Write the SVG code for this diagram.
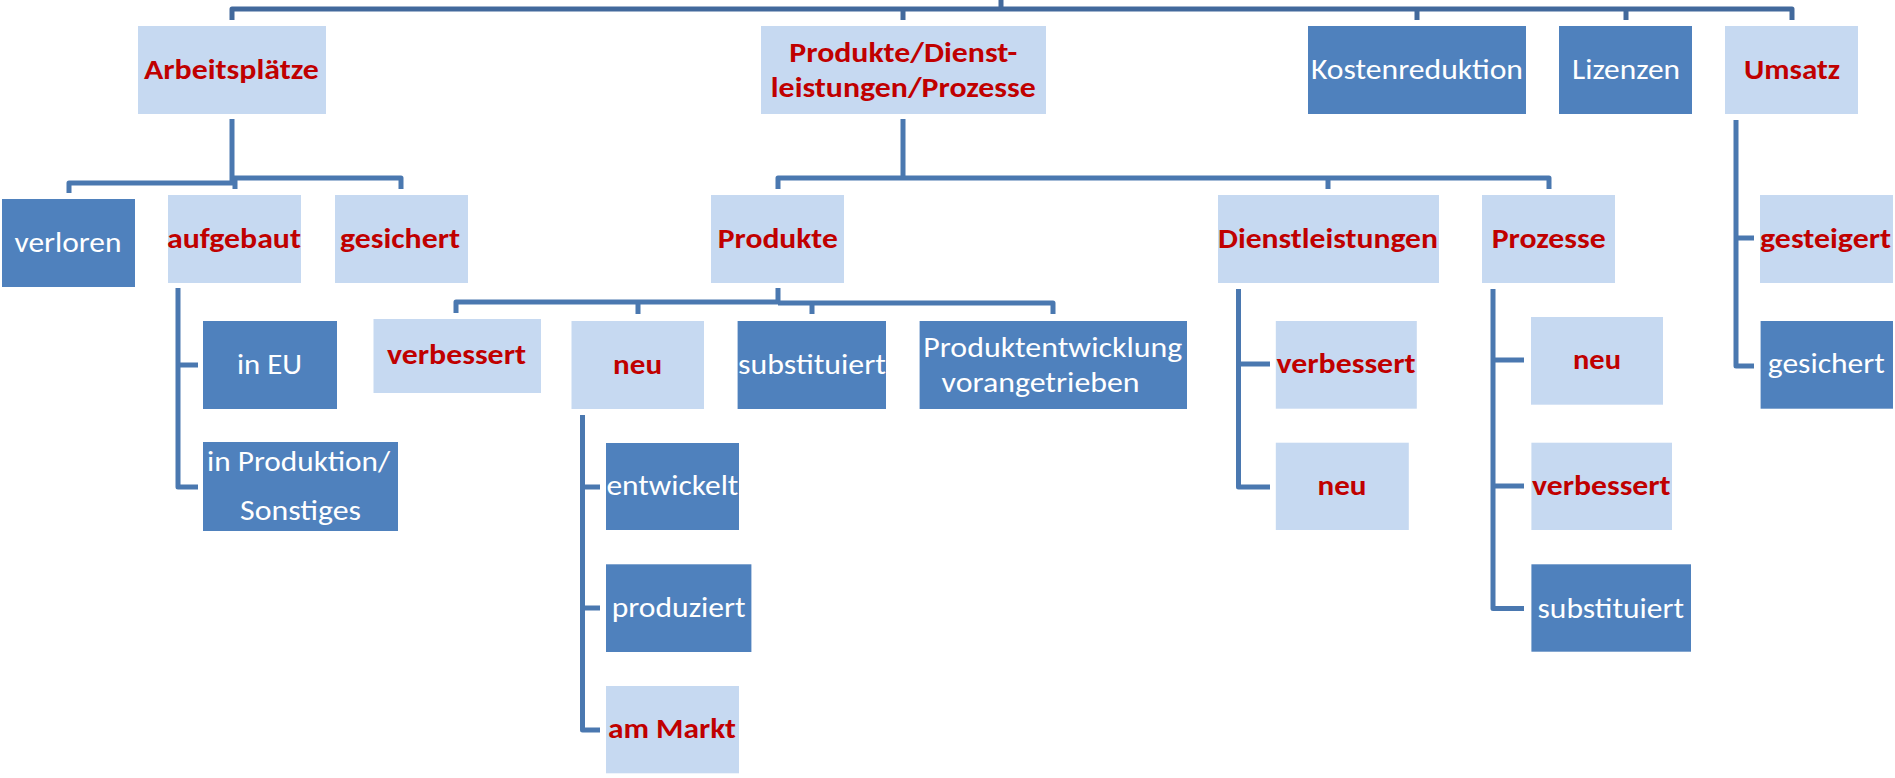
<svg xmlns="http://www.w3.org/2000/svg" width="1895" height="778" viewBox="0 0 1895 778">
<style>
.lt{fill:#C6D9F1}
.dk{fill:#4F81BD}
text{font-family:Carlito,Lato,"Open Sans",sans-serif;text-anchor:middle;font-size:29px;}
.r{font-weight:bold;fill:#C00000}
.w{fill:#FFFFFF}
.c{fill:none;stroke:#4A78B0;stroke-width:5;stroke-linejoin:round}
.t{stroke:#42699C}
</style>
<rect width="1895" height="778" fill="#FFFFFF"/>
<g id="connectors">
<path class="c t" d="M1001 0 V9"/>
<path class="c t" d="M232 20 V9 H1792 V20 M903 9 V20 M1417 9 V20 M1626 9 V20"/>
<path class="c" d="M232 119 V182 M69 193 V183 H234 M232 178 H401 V189 M235 178 V189"/>
<path class="c" d="M903 119 V178 M778 189 V178 H1549 V189 M1328 178 V189"/>
<path class="c" d="M778 288 V303 M456 313 V302 H778 M778 303 H1053 V314 M638 302 V314 M812 303 V314"/>
<path class="c" d="M178 288 V487 H198 M178 365 H198"/>
<path class="c" d="M582.5 415 V730 H600 M582 487 H600 M582 608 H600"/>
<path class="c" d="M1238.5 289 V487 H1270 M1238 364 H1270"/>
<path class="c" d="M1493 289 V608.5 H1524 M1493 360 H1524 M1493 486 H1524"/>
<path class="c" d="M1736 120 V366 H1754 M1736 238 H1754"/>
</g>
<g id="arbeitsplaetze"><rect class="lt" x="138" y="26" width="188" height="88"/><text class="r" x="231.4" y="79" textLength="175" lengthAdjust="spacingAndGlyphs">Arbeitsplätze</text></g>
<g id="pdp"><rect class="lt" x="761" y="26" width="285" height="88"/><text class="r" x="903.3" y="62" font-size="27" textLength="228" lengthAdjust="spacingAndGlyphs">Produkte/Dienst-</text><text class="r" x="903.3" y="97" font-size="27" textLength="265" lengthAdjust="spacingAndGlyphs">leistungen/Prozesse</text></g>
<g id="kostenreduktion"><rect class="dk" x="1308" y="26" width="218" height="88"/><text class="w" x="1417" y="79" textLength="212" lengthAdjust="spacingAndGlyphs">Kostenreduktion</text></g>
<g id="lizenzen"><rect class="dk" x="1559" y="26" width="133" height="88"/><text class="w" x="1626" y="79" textLength="108" lengthAdjust="spacingAndGlyphs">Lizenzen</text></g>
<g id="umsatz"><rect class="lt" x="1725" y="26" width="133" height="88"/><text class="r" x="1792" y="79" textLength="96" lengthAdjust="spacingAndGlyphs">Umsatz</text></g>
<g id="verloren"><rect class="dk" x="2" y="199" width="133" height="88"/><text class="w" x="68" y="252" textLength="107" lengthAdjust="spacingAndGlyphs">verloren</text></g>
<g id="aufgebaut"><rect class="lt" x="168" y="195" width="133" height="88"/><text class="r" x="234" y="248" textLength="134" lengthAdjust="spacingAndGlyphs">aufgebaut</text></g>
<g id="gesichert1"><rect class="lt" x="335" y="195" width="133" height="88"/><text class="r" x="400" y="248" textLength="120" lengthAdjust="spacingAndGlyphs">gesichert</text></g>
<g id="produkte"><rect class="lt" x="711" y="195" width="133" height="88"/><text class="r" x="777.8" y="248" textLength="120" lengthAdjust="spacingAndGlyphs">Produkte</text></g>
<g id="dienstleistungen"><rect class="lt" x="1218" y="195" width="221" height="88"/><text class="r" x="1328" y="248" textLength="220" lengthAdjust="spacingAndGlyphs">Dienstleistungen</text></g>
<g id="prozesse"><rect class="lt" x="1482" y="195" width="133" height="88"/><text class="r" x="1548.7" y="248" textLength="114" lengthAdjust="spacingAndGlyphs">Prozesse</text></g>
<g id="gesteigert"><rect class="lt" x="1760" y="195" width="133" height="88"/><text class="r" x="1825.6" y="248" textLength="131" lengthAdjust="spacingAndGlyphs">gesteigert</text></g>
<g id="in-eu"><rect class="dk" x="203" y="321" width="134" height="88"/><text class="w" x="269.5" y="374" textLength="65" lengthAdjust="spacingAndGlyphs">in EU</text></g>
<g id="in-produktion"><rect class="dk" x="203" y="442" width="195" height="89"/><text class="w" x="298.6" y="471" font-size="26" textLength="183" lengthAdjust="spacingAndGlyphs">in Produktion/</text><text class="w" x="300.5" y="520" font-size="26" textLength="121" lengthAdjust="spacingAndGlyphs">Sonstiges</text></g>
<g id="p-verbessert"><rect class="lt" x="373.5" y="319" width="167.5" height="74"/><text class="r" x="456.5" y="364" textLength="139" lengthAdjust="spacingAndGlyphs">verbessert</text></g>
<g id="p-neu"><rect class="lt" x="571.5" y="321" width="132.5" height="88"/><text class="r" x="637.6" y="374" textLength="49" lengthAdjust="spacingAndGlyphs">neu</text></g>
<g id="p-substituiert"><rect class="dk" x="737.6" y="321" width="148.4" height="88"/><text class="w" x="812" y="374" textLength="148" lengthAdjust="spacingAndGlyphs">substituiert</text></g>
<g id="produktentwicklung"><rect class="dk" x="919.6" y="321" width="267.4" height="88"/><text class="w" x="1052.8" y="356.7" font-size="26" textLength="259" lengthAdjust="spacingAndGlyphs">Produktentwicklung</text><text class="w" x="1040.6" y="391.7" font-size="26" textLength="198" lengthAdjust="spacingAndGlyphs">vorangetrieben</text></g>
<g id="entwickelt"><rect class="dk" x="606" y="443" width="133" height="87"/><text class="w" x="672.4" y="495" textLength="132" lengthAdjust="spacingAndGlyphs">entwickelt</text></g>
<g id="produziert"><rect class="dk" x="606" y="564.3" width="145.4" height="87.7"/><text class="w" x="678.7" y="616.7" textLength="134" lengthAdjust="spacingAndGlyphs">produziert</text></g>
<g id="am-markt"><rect class="lt" x="606" y="686" width="133" height="87.3"/><text class="r" x="672" y="738.3" textLength="128" lengthAdjust="spacingAndGlyphs">am Markt</text></g>
<g id="dl-verbessert"><rect class="lt" x="1275.8" y="321" width="141" height="87.7"/><text class="r" x="1346" y="372.7" textLength="139" lengthAdjust="spacingAndGlyphs">verbessert</text></g>
<g id="dl-neu"><rect class="lt" x="1275.8" y="442.7" width="133" height="87.3"/><text class="r" x="1342" y="495" textLength="49" lengthAdjust="spacingAndGlyphs">neu</text></g>
<g id="pr-neu"><rect class="lt" x="1531" y="317" width="132" height="87.7"/><text class="r" x="1597" y="369.3" textLength="48" lengthAdjust="spacingAndGlyphs">neu</text></g>
<g id="pr-verbessert"><rect class="lt" x="1531.4" y="442.7" width="140.6" height="87.3"/><text class="r" x="1601.3" y="495" textLength="138.6" lengthAdjust="spacingAndGlyphs">verbessert</text></g>
<g id="pr-substituiert"><rect class="dk" x="1531.4" y="564.3" width="159.6" height="87.4"/><text class="w" x="1610.8" y="617.7" textLength="146.6" lengthAdjust="spacingAndGlyphs">substituiert</text></g>
<g id="u-gesichert"><rect class="dk" x="1760.6" y="321" width="132.4" height="87.7"/><text class="w" x="1826.3" y="373" textLength="117" lengthAdjust="spacingAndGlyphs">gesichert</text></g>
</svg>
